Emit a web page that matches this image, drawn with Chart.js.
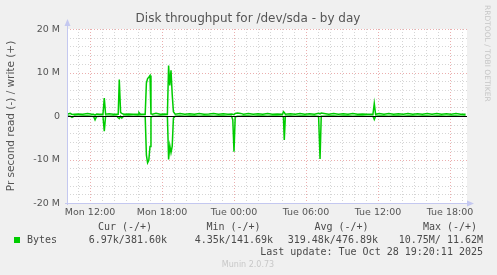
<!DOCTYPE html>
<html>
<head>
<meta charset="utf-8">
<script src="https://cdn.jsdelivr.net/npm/chart.js@4.4.1/dist/chart.umd.min.js"></script>
<style>
  html, body { margin: 0; padding: 0; background: #f0f0f0; }
  canvas { display: block; }
</style>
</head>
<body>
<canvas id="grafico" width="497" height="275"></canvas>
<script>
// hours since Mon 00:00, values in M (bytes/s / 1e6)
const times = [
  10.10, 10.35, 10.50, 10.70, 11.00, 11.40, 11.80, 12.15, 12.30, 12.42,
  12.55, 12.80, 13.08, 13.19, 13.30, 13.60, 13.95, 14.25, 14.35, 14.44,
  14.55, 14.65, 14.80, 15.20, 15.60, 16.00, 16.08, 16.20, 16.60, 16.70,
  16.80, 16.90, 17.00, 17.08, 17.20, 17.50, 17.85, 18.20, 18.45, 18.55,
  18.65, 18.75, 18.85, 18.95, 19.10, 19.50, 19.90, 20.30, 20.70, 21.10,
  21.50, 21.90, 22.30, 22.70, 23.10, 23.50, 23.80, 23.90, 24.00, 24.10,
  24.30, 24.55, 24.80, 25.20, 25.60, 26.00, 26.40, 26.80, 27.20, 27.60,
  28.05, 28.12, 28.19, 28.28, 28.70, 29.10, 29.50, 29.90, 30.30, 30.70,
  31.05, 31.17, 31.27, 31.50, 31.90, 32.30, 32.70, 33.10, 33.50, 33.90,
  34.30, 34.70, 35.10, 35.58, 35.69, 35.80, 36.10, 36.50, 36.90, 37.30,
  37.70, 38.10, 38.50, 38.90, 39.30, 39.70, 40.10, 40.50, 40.90, 41.30,
  41.70, 42.10, 42.50, 42.90, 43.30
];
const writeM = [
  0.40, 0.60, 0.35, 0.40, 0.45, 0.38, 0.55, 0.40, 0.40, 0.20,
  0.45, 0.40, 0.40, 4.10, 0.40, 0.50, 0.40, 0.40, 0.40, 8.40,
  0.80, 0.60, 0.40, 0.45, 0.40, 0.40, 0.80, 0.40, 0.40, 7.60,
  8.60, 8.90, 9.30, 0.50, 0.40, 0.60, 0.40, 0.45, 0.40, 11.62,
  7.00, 10.50, 5.00, 1.00, 0.40, 0.55, 0.40, 0.50, 0.40, 0.60,
  0.40, 0.45, 0.60, 0.40, 0.50, 0.40, 0.45, 0.40, 0.30, 0.60,
  0.70, 0.60, 0.40, 0.55, 0.40, 0.50, 0.40, 0.60, 0.40, 0.45,
  0.40, 1.00, 0.80, 0.40, 0.50, 0.40, 0.60, 0.40, 0.50, 0.40,
  0.60, 0.50, 0.70, 0.60, 0.40, 0.55, 0.40, 0.50, 0.40, 0.60,
  0.40, 0.45, 0.40, 0.40, 2.90, 0.40, 0.55, 0.40, 0.60, 0.40,
  0.50, 0.40, 0.60, 0.40, 0.50, 0.40, 0.55, 0.40, 0.60, 0.40,
  0.50, 0.40, 0.55, 0.40, 0.38
];
const readM = [
  -0.02, -0.05, -0.30, -0.02, -0.03, -0.02, -0.02, -0.05, -0.10, -0.90,
  -0.10, -0.03, -0.05, -3.50, -0.05, -0.03, -0.02, -0.05, -0.40, -0.60,
  -0.10, -0.50, -0.05, -0.02, -0.03, -0.02, -0.02, -0.03, -0.10, -9.00,
  -10.75, -10.20, -7.00, -0.30, -0.05, -0.03, -0.02, -0.03, -0.10, -10.00,
  -6.80, -8.40, -7.00, -0.50, -0.05, -0.02, -0.03, -0.02, -0.02, -0.03,
  -0.02, -0.02, -0.03, -0.02, -0.02, -0.03, -0.05, -0.90, -8.20, -0.20,
  -0.05, -0.03, -0.02, -0.02, -0.03, -0.02, -0.02, -0.03, -0.02, -0.02,
  -0.05, -0.30, -5.50, -0.05, -0.02, -0.03, -0.02, -0.02, -0.03, -0.02,
  -0.10, -9.90, -0.05, -0.03, -0.02, -0.02, -0.03, -0.02, -0.02, -0.03,
  -0.02, -0.02, -0.03, -0.05, -0.80, -0.05, -0.02, -0.02, -0.03, -0.02,
  -0.02, -0.03, -0.02, -0.02, -0.03, -0.02, -0.02, -0.03, -0.02, -0.02,
  -0.03, -0.02, -0.02, -0.03, -0.01
];

const xRange = [10.083, 43.417];
const xTickHours = [12, 18, 24, 30, 36, 42];
const xTickLabels = ["Mon 12:00", "Mon 18:00", "Tue 00:00", "Tue 06:00", "Tue 12:00", "Tue 18:00"];
const yTickValues = [20, 10, 0, -10, -20];
const yTickLabels = ["20 M", "10 M", "0", "-10 M", "-20 M"];

const titulo = "Disk throughput for /dev/sda - by day";
const yTitulo = "Pr second read (-) / write (+)";
const colHeaders = ["Cur (-/+)", "Min (-/+)", "Avg (-/+)", "Max (-/+)"];
const serieNome = "Bytes";
const serieStats = ["6.97k/381.60k", "4.35k/141.69k", "319.48k/476.89k", "10.75M/ 11.62M"];
const lastUpdate = "Last update: Tue Oct 28 19:20:11 2025";
const versao = "Munin 2.0.73";
const verde = "#00cc00";

const SANS = "'DejaVu Sans', sans-serif";
const MONO = "'DejaVu Sans Mono', monospace";

function pontos(vals) {
  return times.map((t, i) => ({ x: t, y: vals[i] }));
}

const muninPlugin = {
  id: "munin",
  beforeDraw(chart) {
    const { ctx, chartArea: a } = chart;
    ctx.save();
    ctx.fillStyle = "#f0f0f0";
    ctx.fillRect(0, 0, chart.width, chart.height);
    ctx.fillStyle = "#ffffff";
    ctx.fillRect(a.left, a.top, a.right - a.left, a.bottom - a.top);
    ctx.restore();
  },
  beforeDatasetsDraw(chart) {
    const { ctx, chartArea: a, scales } = chart;
    const xs = scales.x, ys = scales.y;
    ctx.save();
    ctx.lineWidth = 1;
    ctx.setLineDash([1, 2]);
    // horizontal grid, every 2M, major every 10M
    for (let v = -20; v <= 20; v += 2) {
      const y = Math.round(ys.getPixelForValue(v)) + 0.5;
      ctx.strokeStyle = v % 10 === 0 ? "rgba(225,130,130,0.65)" : "rgba(150,150,150,0.4)";
      ctx.beginPath();
      ctx.moveTo(a.left, y);
      ctx.lineTo(a.right, y);
      ctx.stroke();
    }
    // vertical grid, every hour, major every 6h
    for (let h = Math.ceil(xRange[0]); h <= xRange[1]; h++) {
      const x = Math.round(xs.getPixelForValue(h)) + 0.5;
      ctx.strokeStyle = h % 6 === 0 ? "rgba(225,130,130,0.65)" : "rgba(150,150,150,0.4)";
      ctx.beginPath();
      ctx.moveTo(x, a.top);
      ctx.lineTo(x, a.bottom);
      ctx.stroke();
    }
    ctx.restore();
  },
  afterDatasetsDraw(chart) {
    const { ctx, chartArea: a, scales } = chart;
    const xs = scales.x, ys = scales.y;
    ctx.save();

    // zero line
    const y0 = Math.round(ys.getPixelForValue(0)) + 0.5;
    ctx.strokeStyle = "#000000";
    ctx.lineWidth = 1;
    ctx.beginPath();
    ctx.moveTo(a.left, y0);
    ctx.lineTo(a.right, y0);
    ctx.stroke();

    // axes with arrows
    ctx.strokeStyle = "#c4c8f0";
    ctx.fillStyle = "#c4c8f0";
    const lx = a.left + 0.5, by = Math.round(a.bottom) + 0.5;
    ctx.beginPath();
    ctx.moveTo(lx, a.bottom + 2);
    ctx.lineTo(lx, a.top - 5);
    ctx.moveTo(a.left - 2, by);
    ctx.lineTo(a.right + 2, by);
    ctx.stroke();
    ctx.beginPath();
    ctx.moveTo(lx, a.top - 10);
    ctx.lineTo(lx - 3, a.top - 3);
    ctx.lineTo(lx + 3, a.top - 3);
    ctx.closePath();
    ctx.fill();
    ctx.beginPath();
    ctx.moveTo(a.right + 7, by);
    ctx.lineTo(a.right, by - 3);
    ctx.lineTo(a.right, by + 3);
    ctx.closePath();
    ctx.fill();

    // y tick labels
    ctx.fillStyle = "#555555";
    ctx.font = "9.5px " + SANS;
    ctx.textAlign = "right";
    ctx.textBaseline = "middle";
    yTickValues.forEach((v, i) => {
      ctx.fillText(yTickLabels[i], a.left - 7, ys.getPixelForValue(v) + 0.5);
    });

    // x tick labels
    ctx.textAlign = "center";
    xTickHours.forEach((h, i) => {
      ctx.fillText(xTickLabels[i], xs.getPixelForValue(h), 213);
    });

    // title
    ctx.font = "12px " + SANS;
    ctx.fillText(titulo, 248, 19);

    // y title
    ctx.save();
    ctx.translate(11, 116);
    ctx.rotate(-Math.PI / 2);
    ctx.font = "10.5px " + SANS;
    ctx.fillText(yTitulo, 0, 0);
    ctx.restore();

    // watermark
    ctx.save();
    ctx.translate(487, 5);
    ctx.rotate(Math.PI / 2);
    ctx.textAlign = "left";
    ctx.fillStyle = "#c6c6c6";
    ctx.font = "7.5px " + SANS;
    ctx.fillText("RRDTOOL / TOBI OETIKER", 0, 0);
    ctx.restore();

    // legend
    ctx.fillStyle = "#4a4a4a";
    ctx.font = "10px " + MONO;
    const colCenters = [125, 233.5, 341.5, 450];
    colHeaders.forEach((t, i) => ctx.fillText(t, colCenters[i], 227.5));
    ctx.textAlign = "right";
    const colRights = [167, 273, 378, 483];
    serieStats.forEach((t, i) => ctx.fillText(t, colRights[i], 240.5));
    ctx.fillText(lastUpdate, 483, 252.5);
    ctx.textAlign = "left";
    ctx.fillText(serieNome, 27, 240.5);
    ctx.fillStyle = verde;
    ctx.fillRect(14, 237, 6, 6);

    ctx.fillStyle = "#c8c8c8";
    ctx.font = "8px " + SANS;
    ctx.textAlign = "center";
    ctx.fillText(versao, 248, 264.5);

    ctx.restore();
  }
};

new Chart(document.getElementById("grafico"), {
  type: "line",
  data: {
    datasets: [
      { label: "write", data: pontos(writeM), borderColor: verde, borderWidth: 1.5, pointRadius: 0, tension: 0, fill: false },
      { label: "read", data: pontos(readM), borderColor: verde, borderWidth: 1.5, pointRadius: 0, tension: 0, fill: false }
    ]
  },
  options: {
    responsive: false,
    animation: false,
    devicePixelRatio: 1,
    layout: { padding: { left: 67, right: 30, top: 29, bottom: 72 } },
    plugins: { legend: { display: false }, tooltip: { enabled: false } },
    scales: {
      x: { type: "linear", min: xRange[0], max: xRange[1], display: false },
      y: { type: "linear", min: -20, max: 20, display: false }
    }
  },
  plugins: [muninPlugin]
});
</script>
</body>
</html>
